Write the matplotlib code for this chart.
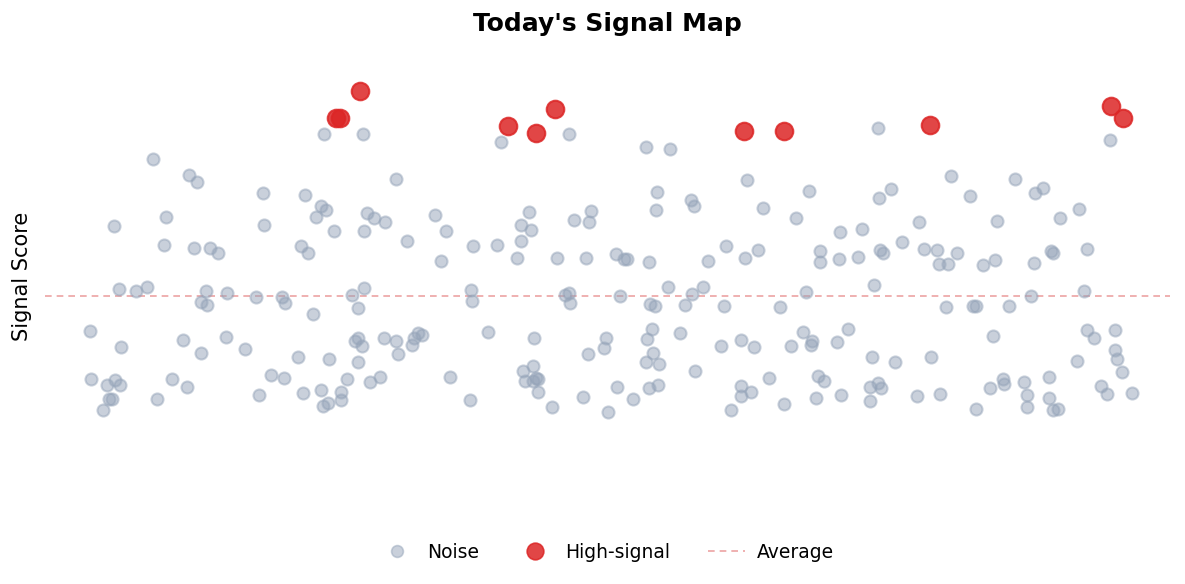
import matplotlib
matplotlib.use("Agg")
import matplotlib.pyplot as plt
from matplotlib.lines import Line2D

# ---- data (item position, signal score) ----
noise_x = [27.9, 10.8, 14.4, 15.2, 21.8, 26.0, 27.6, 28.1, 27.1, 12.1, 6.9, 21.9, 28.9, 11.9, 14.9, 16.5, 17.3, 25.6, 26.3,
           7.4, 9.1, 10.2, 16.1, 18.2, 15.6, 16.2, 21.1, 23.7, 24.0, 26.8, 30.7, 4.5, 7.6, 13.8, 15.6, 18.1, 20.0, 25.3, 28.4,
           4.6, 6.2, 7.0, 7.5, 6.4, 6.7, 5.8, 11.2, 12.7, 14.2, 21.4, 22.6, 23.9, 25.8, 27.6, 27.8, 28.3, 29.6, 29.6, 30.2,
           31.8, 45.6, 52.4, 35.1, 32.2, 32.9, 34.0, 31.9, 39.0, 40.1, 36.2, 42.8, 45.2, 39.6, 48.4, 47.6, 48.6, 47.6, 47.2,
           52.9, 54.6, 54.4, 51.2, 54.1, 57.1, 57.9,
           31.9, 31.3, 42.6, 42.7, 52.0, 52.4, 52.5, 57.5, 31.3, 31.0, 31.7, 31.3, 33.9, 35.1, 35.3, 36.7, 36.9, 37.3, 37.7,
           44.3, 48.9, 54.3, 55.9, 56.1, 32.5, 33.5, 40.5, 42.5, 47.8, 48.8, 48.0, 49.1, 49.3, 48.8, 49.3, 50.7, 53.8, 56.3, 57.2,
           83.3, 60.1, 62.5, 70.2, 61.2, 64.6, 64.9, 61.1, 71.8, 76.4, 75.1, 83.4, 84.6, 79.5, 81.7, 58.2, 60.4, 66.3, 68.1,
           70.0, 71.3, 77.5, 77.5, 79.4, 81.3, 83.5, 83.8,
           62.3, 64.7, 65.8, 60.5, 61.0, 64.0, 67.9, 73.5, 76.1, 82.9, 60.7, 60.2, 63.5, 60.8, 60.1, 61.4, 65.0, 67.6, 69.6,
           70.9, 74.6, 75.8, 76.7, 76.6, 79.2, 80.3, 82.7, 85.0, 58.8, 60.4, 61.3, 68.6, 69.6, 69.6, 70.6, 72.4, 73.9, 77.3,
           77.9, 77.1, 79.6, 82.5, 83.3, 83.6, 82.5,
           106.5, 90.6, 92.5, 97.0, 99.0, 99.8, 103.4, 101.5, 95.2, 87.4, 85.7, 87.9, 89.2, 91.2, 89.4, 90.3, 93.8, 95.0, 98.9,
           100.6, 100.8, 104.2,
           90.1, 92.8, 93.1, 96.4, 98.6, 103.9, 94.8, 104.2, 104.9, 107.0, 107.0, 107.2, 107.7, 103.2, 88.6, 87.2, 89.5, 93.1,
           94.5, 95.8, 95.9, 97.9, 98.2, 98.2, 100.4, 100.4, 100.8, 101.3, 105.6, 106.2, 108.7]
noise_y = [79.2, 74.2, 71.0, 69.6, 67.4, 67.0, 64.8, 64.0, 62.6, 62.6, 60.8, 61.0, 59.8, 57.0, 56.4, 56.4, 55.4, 56.8, 55.4,
           48.2, 47.8, 48.6, 47.8, 47.4, 45.6, 45.0, 46.6, 46.6, 45.4, 43.2, 47.0, 39.8, 36.6, 38.0, 35.4, 38.6, 36.2, 34.6, 34.2,
           30.2, 29.0, 30.0, 29.0, 26.2, 26.2, 24.0, 26.2, 30.2, 28.6, 27.0, 31.0, 30.4, 27.4, 28.0, 24.8, 25.4, 27.6, 26.0, 30.2,
           79.2, 77.6, 79.2, 70.2, 63.4, 62.4, 61.6, 59.8, 63.0, 59.8, 57.8, 56.8, 57.0, 53.8, 63.6, 61.0, 60.0, 57.8, 54.4,
           62.0, 63.8, 61.6, 54.4, 54.4, 55.2, 54.2,
           48.4, 44.4, 48.0, 45.8, 47.0, 47.4, 45.4, 46.8, 38.4, 37.8, 36.8, 33.6, 38.4, 37.8, 35.2, 37.0, 38.4, 39.4, 39.0,
           39.6, 38.4, 35.2, 36.4, 38.4, 29.6, 30.6, 30.6, 26.0, 31.8, 32.8, 29.8, 30.4, 30.2, 29.8, 27.6, 24.6, 26.6, 23.6, 28.6,
           80.4, 76.6, 76.2, 70.0, 67.6, 66.0, 64.8, 64.0, 64.4, 67.8, 62.4, 66.4, 68.2, 59.6, 60.2, 54.2, 53.6, 53.8, 56.8,
           54.4, 56.0, 55.8, 53.6, 54.2, 54.6, 56.0, 55.4,
           48.6, 47.2, 48.6, 45.2, 44.8, 45.0, 44.8, 44.6, 47.6, 49.0, 40.2, 38.2, 39.4, 35.4, 33.6, 33.2, 31.8, 36.8, 38.0,
           36.6, 36.8, 39.6, 37.8, 37.0, 37.6, 40.2, 34.6, 33.6, 26.2, 28.4, 29.0, 24.0, 28.8, 26.8, 27.6, 30.4, 25.2, 30.8,
           29.8, 26.4, 27.0, 28.6, 29.4, 28.4, 25.8,
           78.0, 70.8, 66.8, 70.2, 67.4, 68.4, 64.2, 62.4, 61.8, 61.6, 57.6, 56.2, 56.0, 55.4, 53.2, 53.2, 53.0, 54.0, 53.4,
           55.8, 55.4, 56.2,
           44.6, 44.8, 44.8, 44.8, 46.8, 47.8, 38.8, 40.0, 38.4, 40.0, 36.0, 34.2, 31.6, 33.8, 34.6, 26.8, 27.2, 24.2,
           28.4, 30.2, 29.2, 29.6, 27.0, 24.6, 30.6, 26.4, 24.0, 24.2, 28.8, 27.2, 27.4]

signal_x = [29.1, 29.5, 31.5, 46.3, 49.1, 51.0, 69.9, 73.9, 88.5, 106.6, 107.8]
signal_y = [82.4, 82.4, 87.8, 80.8, 79.4, 84.2, 79.8, 79.8, 81.0, 84.8, 82.4]

average_score = 46.8

legend_labels = ["Noise", "High-signal", "Average"]
title_text = "Today's Signal Map"
ylabel_text = "Signal Score"

# ---- figure ----
W, H = 1185, 584
fig = plt.figure(figsize=(W / 100, H / 100), dpi=100)
ax = fig.add_axes([45 / W, (H - 530) / H, (1170 - 45) / W, 480 / H])
ax.set_xlim(0, 112.5)
ax.set_ylim(0, 96)

noise_color = "#94a3b8"
red_color = "#dc2626"
avg_color = "#e06666"

ax.scatter(noise_x, noise_y, s=75, facecolor=noise_color, edgecolor=noise_color,
           linewidths=1.5, alpha=0.5, zorder=2)
ax.scatter(signal_x, signal_y, s=160, facecolor=red_color, edgecolor=red_color,
           linewidths=1.5, alpha=0.85, zorder=3)
ax.axhline(average_score, color=avg_color, linestyle=(0, (4, 3)), linewidth=1.2,
           alpha=0.6, zorder=1)

for sp in ax.spines.values():
    sp.set_visible(False)
ax.set_xticks([])
ax.set_yticks([])
ax.set_ylabel(ylabel_text, fontsize=15)
ax.yaxis.set_label_coords(-13 / 1125, (530 - 276) / 480)

fig.text(607 / W, 1 - 24 / H, title_text, ha="center", va="center",
         fontsize=18, fontweight="bold")

handles = [
    Line2D([], [], marker="o", linestyle="none", markersize=8.5,
           markerfacecolor=noise_color, markeredgecolor=noise_color, markeredgewidth=1.2, alpha=0.5),
    Line2D([], [], marker="o", linestyle="none", markersize=12,
           markerfacecolor=red_color, markeredgecolor=red_color, markeredgewidth=1.2, alpha=0.85),
    Line2D([], [], color=avg_color, linestyle=(0, (4, 3)), linewidth=1.2, alpha=0.6),
]
fig.legend(handles, legend_labels, loc="center", bbox_to_anchor=(606 / W, 1 - 552 / H),
           ncol=3, frameon=False, fontsize=13.5, columnspacing=2.0, handletextpad=0.6)

fig.savefig("out.png", dpi=100)
